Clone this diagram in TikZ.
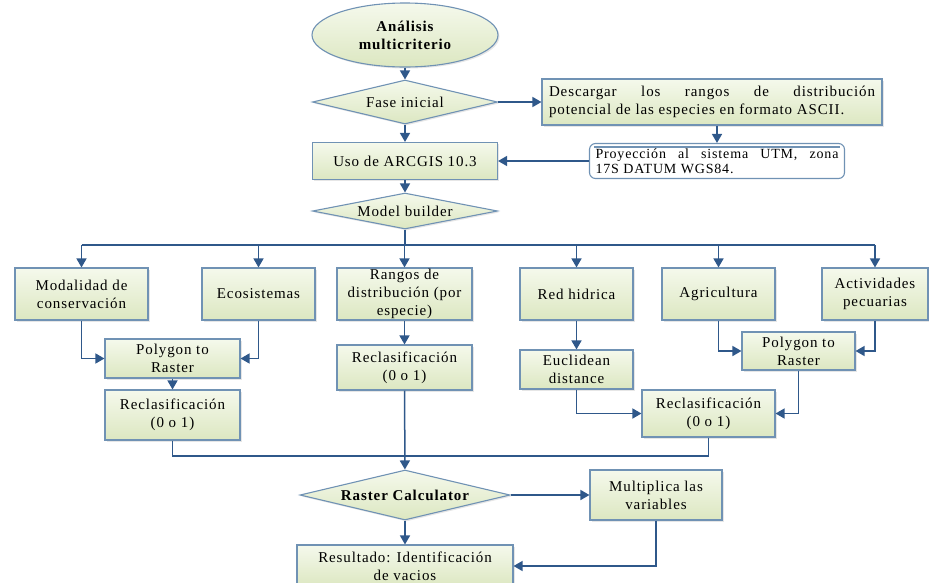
\documentclass[tikz,border=0pt]{standalone}
\usepackage{fontspec}
\setmainfont{Liberation Serif}[LetterSpace=6]
\usetikzlibrary{shapes.geometric,arrows.meta,shadows}
\definecolor{boxtop}{RGB}{245,249,236}
\definecolor{boxbot}{RGB}{220,231,193}
\definecolor{boxline}{RGB}{112,146,180}
\definecolor{flowline}{RGB}{47,88,138}
\tikzset{
  base/.style={draw=boxline,line width=1.1pt,top color=boxtop,bottom color=boxbot,
    align=center,inner sep=1pt,drop shadow={opacity=0.2,shadow xshift=1.5pt,shadow yshift=-1.5pt}},
  caja/.style={base,rectangle},
  rombo/.style={base,diamond,aspect=4,inner sep=0pt},
  flecha/.style={draw=flowline,line width=1.5pt,-{Triangle[length=9pt,width=10pt]}},
  linea/.style={draw=flowline,line width=1.5pt}
}
\begin{document}
\begin{tikzpicture}[x=1pt,y=-1pt,font=\fontsize{15}{18}\selectfont]
            \useasboundingbox (0,0) rectangle (929,582);
            % inicio
            \node[base,ellipse,minimum width=186,minimum height=64,font=\fontsize{15}{18}\selectfont\bfseries] (ana) at (405,35) {Análisis\\multicriterio};
            \node[rombo,minimum width=185,minimum height=44] (fase) at (405,102) {Fase inicial};
            \node[caja,minimum width=340,minimum height=46,text width=326,align=justify] (desc) at (712,102)
              {Descargar los rangos de distribución\linebreak potencial de las especies en formato ASCII.};
            \node[draw=boxline,line width=1.1pt,fill=white,rounded corners=6pt,minimum width=255,minimum height=35,
              text width=243,align=justify,inner sep=1pt,font=\fontsize{14}{15}\selectfont] (proy) at (717,161)
              {Proyección al sistema UTM, zona\linebreak 17S DATUM WGS84.};
            \draw[boxline,line width=1.1pt] ([xshift=5pt,yshift=-4pt]proy.north west) -- ([xshift=-5pt,yshift=-4pt]proy.north east);
            \node[caja,minimum width=185,minimum height=37] (uso) at (405,161) {Uso de ARCGIS 10.3};
            \node[rombo,minimum width=185,minimum height=36] (mb) at (405,211) {Model builder};
            % variables
            \node[caja,minimum width=133,minimum height=52] (modal) at (81.5,294) {Modalidad de\\conservación};
            \node[caja,minimum width=113,minimum height=52] (eco) at (258.5,294) {Ecosistemas};
            \node[caja,minimum width=135,minimum height=52] (rangos) at (404.5,294) {Rangos de\\distribución (por\\especie)};
            \node[caja,minimum width=113,minimum height=52] (red) at (576.5,294) {Red hidrica};
            \node[caja,minimum width=113,minimum height=52] (agri) at (718.5,294) {Agricultura};
            \node[caja,minimum width=106,minimum height=52] (activ) at (875,294) {Actividades\\pecuarias};
            % procesos
            \node[caja,minimum width=135,minimum height=39] (polyL) at (172.5,358.5) {Polygon to\\Raster};
            \node[caja,minimum width=135,minimum height=50] (reclasL) at (172.5,415) {Reclasificación\\(0 o 1)};
            \node[caja,minimum width=135,minimum height=45] (reclasC) at (404.5,367.5) {Reclasificación\\(0 o 1)};
            \node[caja,minimum width=113,minimum height=39] (eucl) at (576.5,369.5) {Euclidean\\distance};
            \node[caja,minimum width=113,minimum height=38] (polyR) at (798.5,351) {Polygon to\\Raster};
            \node[caja,minimum width=133,minimum height=47] (reclasR) at (708.5,413.5) {Reclasificación\\(0 o 1)};
            % final
            \node[rombo,minimum width=210,minimum height=50,font=\fontsize{15}{18}\selectfont\bfseries] (raster) at (405,495) {Raster Calculator};
            \node[caja,minimum width=132,minimum height=50] (mult) at (656,495) {Multiplica las\\variables};
            \node[caja,minimum width=216,minimum height=42] (result) at (405,566) {Resultado: Identificación\\de vacios};
            \coordinate (bus) at (405,245);
            \coordinate (bus2) at (405,456);
            % conectores
            \draw[flecha] (ana) -- (fase);
            \draw[flecha] (fase) -- (desc);
            \draw[flecha] (proy.north |- desc.south) -- (proy.north);
            \draw[flecha] (proy) -- (uso);
            \draw[flecha] (fase) -- (uso);
            \draw[flecha] (uso) -- (mb);
            \draw[linea] (mb.south) -- (bus) (modal.north |- bus) -- (activ.north |- bus);
            \foreach \n in {modal,eco,rangos,red,agri,activ}
              \draw[flecha] (\n.north |- bus) -- (\n.north);
            \draw[flecha] (modal.south) |- (polyL.west);
            \draw[flecha] (eco.south) |- (polyL.east);
            \draw[flecha] (polyL) -- (reclasL);
            \draw[flecha] (rangos) -- (reclasC);
            \draw[flecha] (red) -- (eucl);
            \draw[flecha] (agri.south) |- (polyR.west);
            \draw[flecha] (activ.south) |- (polyR.east);
            \draw[flecha] (eucl.south) |- (reclasR.west);
            \draw[flecha] (polyR.south) |- (reclasR.east);
            \draw[linea] (reclasL.south) |- (bus2) (reclasR.south) |- (bus2);
            \draw[flecha] (reclasC) -- (raster);
            \draw[flecha] (raster) -- (mult);
            \draw[flecha] (raster) -- (result);
            \draw[flecha] (mult.south) |- (result.east);
        \end{tikzpicture}
\end{document}
